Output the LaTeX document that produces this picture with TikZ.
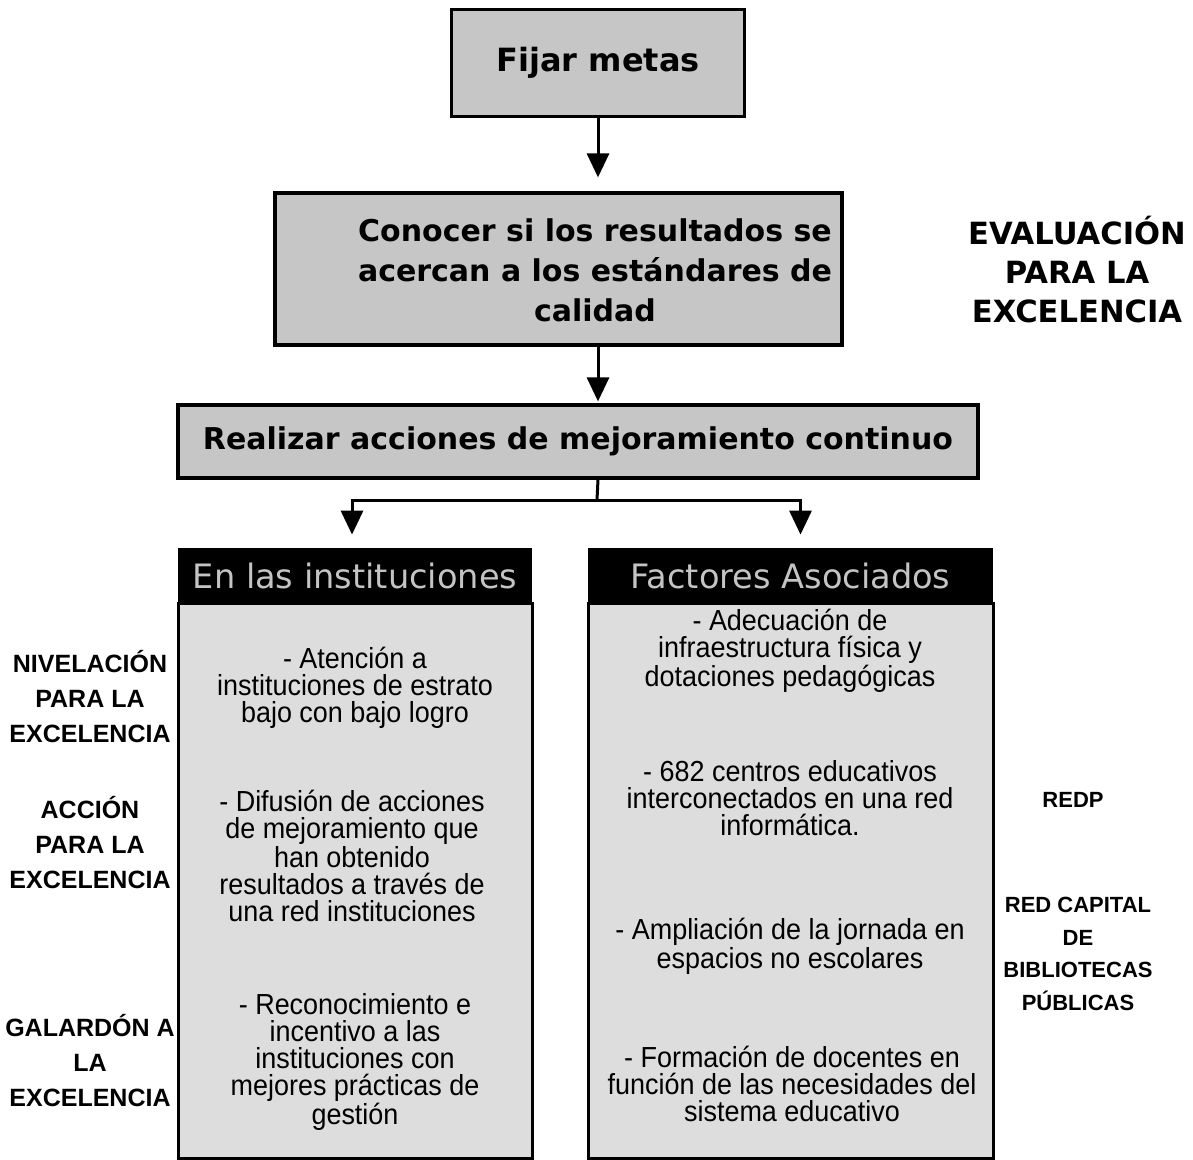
\documentclass[tikz,border=0pt]{standalone}
\usepackage{fontspec}
\setmainfont{Liberation Sans}
\newfontfamily\verdfont{DejaVu Sans}
\newfontfamily\narrowfont[FakeStretch=0.93]{Liberation Sans}
\usetikzlibrary{arrows.meta, positioning, calc}
\definecolor{scangrey}{HTML}{C6C6C6}
\definecolor{panelgrey}{HTML}{DDDDDD}
\definecolor{headink}{HTML}{C4C4C4}
\tikzset{
  arr/.style={-{Triangle[width=11pt,length=12pt]}, line width=1.5pt, black},
  link/.style={line width=1.5pt, black},
  goalbox/.style={rectangle, draw=black, fill=scangrey, line width=1.6pt, align=center, inner sep=0pt},
  goaltxt/.style={align=center, inner sep=0pt, font=\verdfont\bfseries\fontsize{15}{20}\selectfont},
  colhead/.style={rectangle, fill=black, text=headink, minimum height=27.5pt, inner sep=0pt, font=\verdfont\fontsize{16.8}{19}\selectfont},
  colbody/.style={rectangle, draw=black, fill=panelgrey, line width=1.5pt, inner sep=0pt},
  itemtxt/.style={align=center, inner sep=0pt, font=\narrowfont\fontsize{14.5}{13.5}\selectfont},
  sidetxt/.style={align=center, inner sep=0pt, font=\bfseries\fontsize{12.5}{17.5}\selectfont},
}

\begin{document}
\begin{tikzpicture}[x=0.5pt, y=-0.5pt]
  \useasboundingbox (0,0) rectangle (1193,1160);

  % Goal chain
  \node[goalbox, minimum width=146.5pt, minimum height=53.5pt, goaltxt, font=\verdfont\bfseries\fontsize{16}{20}\selectfont] (fijar) at (598,63) {Fijar metas};
  \node[goalbox, minimum width=283.5pt, minimum height=76pt] (conocer) at (558.5,269) {};
  \node[goaltxt] (conocertxt) at (595,270) {Conocer si los resultados se\\acercan a los estándares de\\calidad};
  \node[goalbox, minimum width=400pt, minimum height=36.5pt, goaltxt] (realizar) at (578,441.5) {Realizar acciones de mejoramiento continuo};
  \node[goaltxt, font=\verdfont\bfseries\fontsize{15.3}{19.5}\selectfont] (evaluacion) at (1077,270) {EVALUACIÓN\\PARA LA\\EXCELENCIA};

  \draw[arr, shorten >=7pt] (fijar.south) -- (fijar.south |- conocer.north);
  \draw[arr, shorten >=1pt] (fijar.south |- conocer.south) -- (fijar.south |- realizar.north);

  % Fork to the two columns
  \coordinate (fork) at (597,500);
  \draw[link] (fijar.south |- realizar.south) -- (fork);

  % Columns
  \node[colhead, minimum width=177pt] (insthead) at (355,575.5) {En las instituciones};
  \node[colbody, minimum width=177pt, minimum height=277.5pt] (instbody) at (355,880.5) {};
  \node[colhead, minimum width=202.5pt] (facthead) at (790.5,575.5) {Factores Asociados};
  \node[colbody, minimum width=202.5pt, minimum height=277.5pt] (factbody) at (790.5,880.5) {};

  \draw[arr, shorten >=6.5pt] (fork) -| ([xshift=-1.5pt]insthead.north);
  \draw[arr, shorten >=6.5pt] (fork) -| ([xshift=5pt]facthead.north);

  % Items, left column
  \node[itemtxt] (inst1) at (355,688) {- Atención a\\instituciones de estrato\\bajo con bajo logro};
  \node[itemtxt] (inst2) at (352,856) {- Difusión de acciones\\de mejoramiento que\\han obtenido\\resultados a través de\\una red instituciones};
  \node[itemtxt] (inst3) at (355,1062) {- Reconocimiento e\\incentivo a las\\instituciones con\\mejores prácticas de\\gestión};

  % Items, right column
  \node[itemtxt] (fact1) at (790,651) {- Adecuación de\\infraestructura física y\\dotaciones pedagógicas};
  \node[itemtxt] (fact2) at (790,798) {- 682 centros educativos\\interconectados en una red\\informática.};
  \node[itemtxt] (fact3) at (790,946) {- Ampliación de la jornada en\\espacios no escolares};
  \node[itemtxt] (fact4) at (792,1084) {- Formación de docentes en\\función de las necesidades del\\sistema educativo};

  % Side labels
  \node[sidetxt] (nivelacion) at (90,697) {NIVELACIÓN\\PARA LA\\EXCELENCIA};
  \node[sidetxt] (accion) at (90,843) {ACCIÓN\\PARA LA\\EXCELENCIA};
  \node[sidetxt] (galardon) at (90,1061) {GALARDÓN A\\LA\\EXCELENCIA};
  \node[sidetxt, font=\bfseries\fontsize{11}{16.3}\selectfont] (redp) at (1073,800) {REDP};
  \node[sidetxt, font=\bfseries\fontsize{11}{16.3}\selectfont] (redcapital) at (1078,954) {RED CAPITAL\\DE\\BIBLIOTECAS\\PÚBLICAS};
\end{tikzpicture}
\end{document}
